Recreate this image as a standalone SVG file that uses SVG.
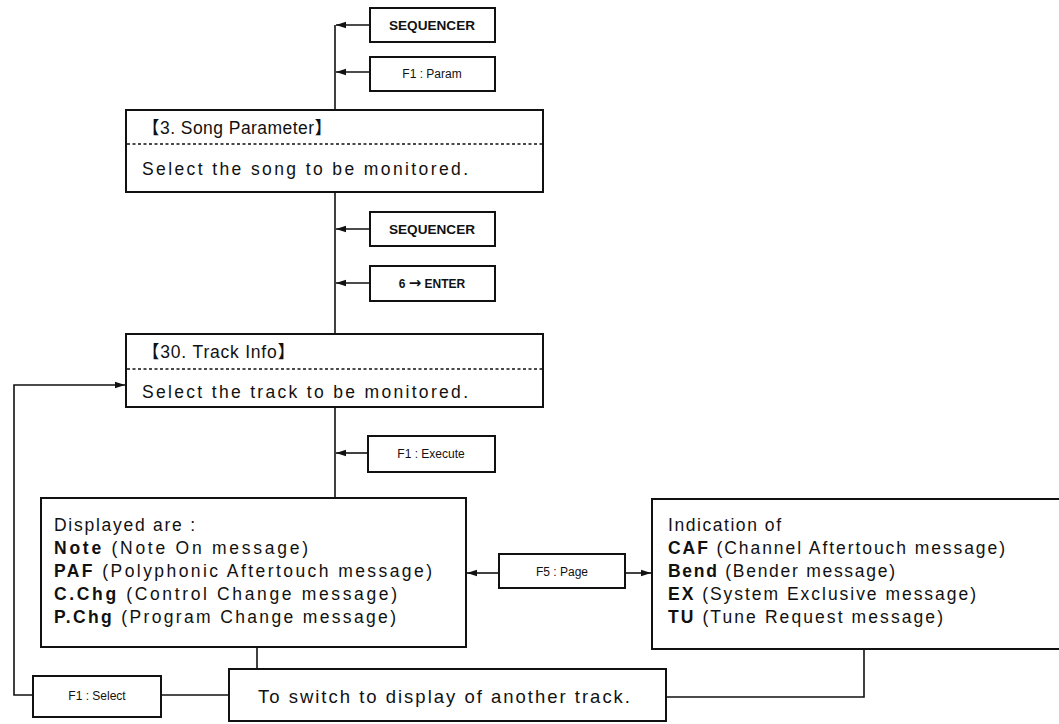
<svg xmlns="http://www.w3.org/2000/svg" width="1059" height="724" viewBox="0 0 1059 724">
<defs>
<style>
.box{fill:#fff;stroke:#111;stroke-width:2}
.sbox{fill:#fff;stroke:#111;stroke-width:2}
.ln{fill:none;stroke:#111;stroke-width:1.6}
.sep{stroke:#111;stroke-width:1.5;stroke-dasharray:3 2.5}
.t{font-family:"Liberation Sans","Noto Sans CJK JP",Arial,sans-serif;font-size:17.5px;fill:#111}
.s{font-family:"Liberation Sans",Arial,sans-serif;font-size:12px;font-weight:bold;fill:#111;text-anchor:middle}
.n{font-weight:normal;-webkit-text-stroke:0.35px #111}
.b{font-weight:bold}
</style>
<marker id="ah" markerUnits="userSpaceOnUse" markerWidth="10" markerHeight="8" viewBox="0 0 10 8" refX="10" refY="4" orient="auto">
<path d="M0,0.8 L10,4 L0,7.2 Z" fill="#111"/>
</marker>
</defs>
<rect width="1059" height="724" fill="#fff"/>

<g id="connectors">
<path class="ln" d="M335,25 V110"/>
<path class="ln" d="M335,192 V334"/>
<path class="ln" d="M335,407 V498"/>
<path class="ln" d="M370,25 H336" marker-end="url(#ah)"/>
<path class="ln" d="M370,72 H336" marker-end="url(#ah)"/>
<path class="ln" d="M370,229 H336" marker-end="url(#ah)"/>
<path class="ln" d="M370,283 H336" marker-end="url(#ah)"/>
<path class="ln" d="M368,453 H336" marker-end="url(#ah)"/>
<path class="ln" d="M499,573 H467" marker-end="url(#ah)"/>
<path class="ln" d="M625,573 H651" marker-end="url(#ah)"/>
<path class="ln" d="M257,647 V669"/>
<path class="ln" d="M864,649 V697 H666"/>
<path class="ln" d="M229,695 H161"/>
<path class="ln" d="M33,695 H14 V385 H125" marker-end="url(#ah)"/>
</g>

<g id="seq1"><rect class="sbox" x="370" y="8" width="125" height="34"/><text class="s" x="432" y="30" textLength="86" lengthAdjust="spacingAndGlyphs">SEQUENCER</text></g>
<g id="f1param"><rect class="sbox" x="370" y="57" width="125" height="34"/><text class="s n" x="432" y="78">F1 : Param</text></g>

<g id="songparam">
<rect class="box" x="126" y="110" width="417" height="82"/>
<line class="sep" x1="127" y1="144" x2="542" y2="144"/>
<text class="t" x="142" y="134" textLength="190" lengthAdjust="spacing">【3. Song Parameter】</text>
<text class="t" x="142" y="175" textLength="326" lengthAdjust="spacing">Select the song to be monitored.</text>
</g>

<g id="seq2"><rect class="sbox" x="370" y="212" width="125" height="34"/><text class="s" x="432" y="234" textLength="86" lengthAdjust="spacingAndGlyphs">SEQUENCER</text></g>
<g id="enter"><rect class="sbox" x="370" y="266" width="125" height="35"/><text class="s" x="432" y="288">6 <tspan style="font-family:'DejaVu Sans',sans-serif;font-size:15px">→</tspan> ENTER</text></g>

<g id="trackinfo">
<rect class="box" x="126" y="334" width="417" height="73"/>
<line class="sep" x1="127" y1="369" x2="542" y2="369"/>
<text class="t" x="142" y="358" textLength="153" lengthAdjust="spacing">【30. Track Info】</text>
<text class="t" x="142" y="398" textLength="326" lengthAdjust="spacing">Select the track to be monitored.</text>
</g>

<g id="f1exec"><rect class="sbox" x="368" y="436" width="127" height="36"/><text class="s n" x="431" y="458">F1 : Execute</text></g>

<g id="displayed">
<rect class="box" x="41" y="498" width="425" height="149"/>
<text class="t" x="54" y="531" textLength="141" lengthAdjust="spacing">Displayed are :</text>
<text class="t" x="54" y="554" textLength="254" lengthAdjust="spacing"><tspan class="b">Note</tspan> (Note On message)</text>
<text class="t" x="54" y="577" textLength="378" lengthAdjust="spacing"><tspan class="b">PAF</tspan> (Polyphonic Aftertouch message)</text>
<text class="t" x="54" y="600" textLength="343" lengthAdjust="spacing"><tspan class="b">C.Chg</tspan> (Control Change message)</text>
<text class="t" x="54" y="623" textLength="342" lengthAdjust="spacing"><tspan class="b">P.Chg</tspan> (Program Change message)</text>
</g>

<g id="f5page"><rect class="sbox" x="499" y="554" width="126" height="34"/><text class="s n" x="562" y="576">F5 : Page</text></g>

<g id="indication">
<rect class="box" x="652" y="499" width="420" height="150"/>
<text class="t" x="668" y="531" textLength="113" lengthAdjust="spacing">Indication of</text>
<text class="t" x="668" y="554" textLength="337" lengthAdjust="spacing"><tspan class="b">CAF</tspan> (Channel Aftertouch message)</text>
<text class="t" x="668" y="577" textLength="227" lengthAdjust="spacing"><tspan class="b">Bend</tspan> (Bender message)</text>
<text class="t" x="668" y="600" textLength="308" lengthAdjust="spacing"><tspan class="b">EX</tspan> (System Exclusive message)</text>
<text class="t" x="668" y="623" textLength="275" lengthAdjust="spacing"><tspan class="b">TU</tspan> (Tune Request message)</text>
</g>

<g id="f1select"><rect class="sbox" x="33" y="676" width="128" height="41"/><text class="s n" x="97" y="700">F1 : Select</text></g>

<g id="switch">
<rect class="box" x="229" y="669" width="437" height="52"/>
<text class="t" x="258" y="703" style="font-size:18.5px" textLength="372" lengthAdjust="spacing">To switch to display of another track.</text>
</g>
</svg>
